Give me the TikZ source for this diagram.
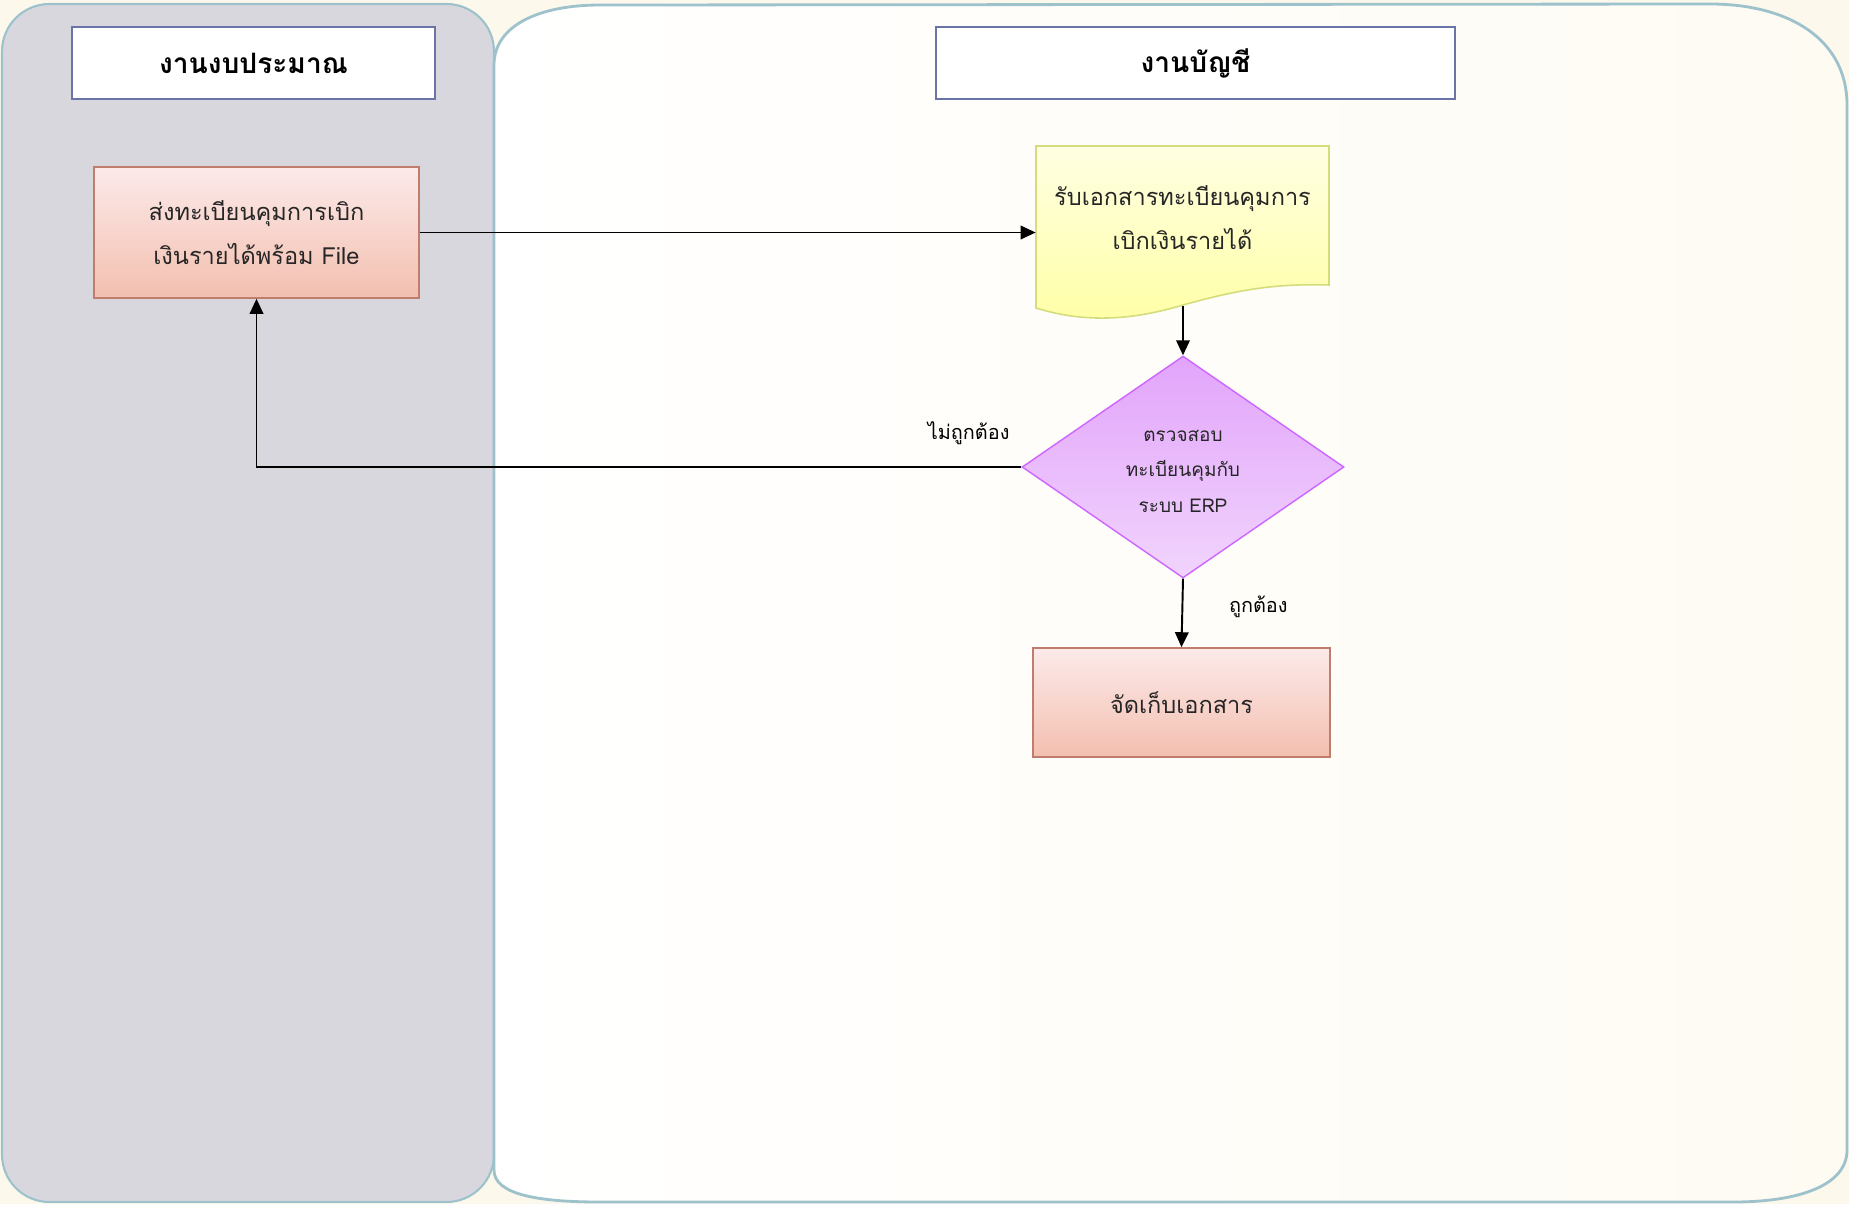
\documentclass[tikz,border=0pt]{standalone}
\usepackage{fontspec}
\setmainfont[Script=Thai]{Loma}
\usetikzlibrary{arrows.meta,shapes.geometric}

\definecolor{bgcream}{HTML}{FCF8EC}
\definecolor{lanegrey}{HTML}{D8D7DE}
\definecolor{laneedge}{HTML}{9EC2CC}
\definecolor{lanewhite}{HTML}{FFFFFF}
\definecolor{lanetint}{HTML}{FEFBF3}
\definecolor{headline}{HTML}{6B74A6}
\definecolor{proctop}{HTML}{FCEAEA}
\definecolor{procbot}{HTML}{F3BFAF}
\definecolor{procline}{HTML}{C07C6C}
\definecolor{doctop}{HTML}{FFFFE2}
\definecolor{docbot}{HTML}{FFFFA6}
\definecolor{docline}{HTML}{D5DC7C}
\definecolor{chktop}{HTML}{E2A4FB}
\definecolor{chkbot}{HTML}{F1D4FC}
\definecolor{chkline}{HTML}{CC66FF}
\definecolor{softink}{HTML}{262626}

\begin{document}
\begin{tikzpicture}[x=0.02cm,y=-0.02cm,
    head/.style={draw=headline,line width=1.1pt,fill=white,
      minimum height=1.44cm,font=\bfseries\fontsize{16}{18}\selectfont},
    proc/.style={draw=procline,line width=0.9pt,top color=proctop,bottom color=procbot,
      align=center,text=softink,font=\fontsize{13.4}{25}\selectfont},
    flow/.style={line width=1.1pt,-{Triangle[length=0.3cm,width=0.27cm]}},
    lbl/.style={font=\fontsize{11.3}{14}\selectfont}]

  % page and the two lanes
  \fill[bgcream] (0,0) rectangle (1849,1204);
  \draw[laneedge,line width=1.2pt,fill=lanegrey,rounded corners=0.95cm]
    (2,4) rectangle (494,1202);
  \draw[laneedge,line width=1.6pt,left color=lanewhite,right color=lanetint]
    (494,65) .. controls (494,25) and (540,5) .. (600,5)
    -- (1710,4) .. controls (1790,4) and (1847,40) .. (1847,105)
    -- (1847,1150) .. controls (1847,1185) and (1800,1202) .. (1733,1202)
    -- (600,1202) .. controls (540,1202) and (494,1195) .. (494,1170) -- cycle;

  % lane titles
  \node[head,minimum width=7.26cm] (budget) at (253.5,63) {งานงบประมาณ};
  \node[head,minimum width=10.38cm] (account) at (1195.5,63) {งานบัญชี};

  % steps
  \node[proc,minimum width=6.5cm,minimum height=2.62cm] (sendreg) at (256.5,232.5)
    {ส่งทะเบียนคุมการเบิก\\เงินรายได้พร้อม File};

  \draw[docline,line width=0.9pt,top color=doctop,bottom color=docbot]
    (1036,146) -- (1329,146) -- (1329,285)
    .. controls (1270,283) and (1230,292) .. (1183,305)
    .. controls (1140,318) and (1090,325) .. (1036,308) -- cycle;
  \node[align=center,minimum width=5.86cm,minimum height=2.88cm,text=softink,
    font=\fontsize{13.4}{25}\selectfont] (recvdoc) at (1182.5,218)
    {รับเอกสารทะเบียนคุมการ\\เบิกเงินรายได้};
  \coordinate (docfoot) at (1183,306);

  \node[diamond,draw=chkline,line width=0.8pt,top color=chktop,bottom color=chkbot,
    inner sep=0pt,minimum width=6.44cm,minimum height=4.44cm,align=center,text=softink,
    font=\fontsize{10.8}{20}\selectfont] (check) at (1183,467)
    {\rule{0pt}{0.4cm}ตรวจสอบ\\ทะเบียนคุมกับ\\ระบบ ERP};

  \node[proc,minimum width=5.94cm,minimum height=2.18cm] (store) at (1181.5,702.5)
    {จัดเก็บเอกสาร};

  % connectors
  \draw[flow] (sendreg.east) -- (sendreg.east -| recvdoc.west);
  \draw[flow] (docfoot) -- (check.north);
  \draw[flow] (check.west) node[lbl,anchor=east,xshift=-0.1cm,yshift=0.68cm] {ไม่ถูกต้อง}
    -| (sendreg.south);
  \draw[flow] (check.south) -- (store.north)
    node[lbl,midway,anchor=west,xshift=0.8cm,yshift=0.12cm] {ถูกต้อง};
\end{tikzpicture}
\end{document}
